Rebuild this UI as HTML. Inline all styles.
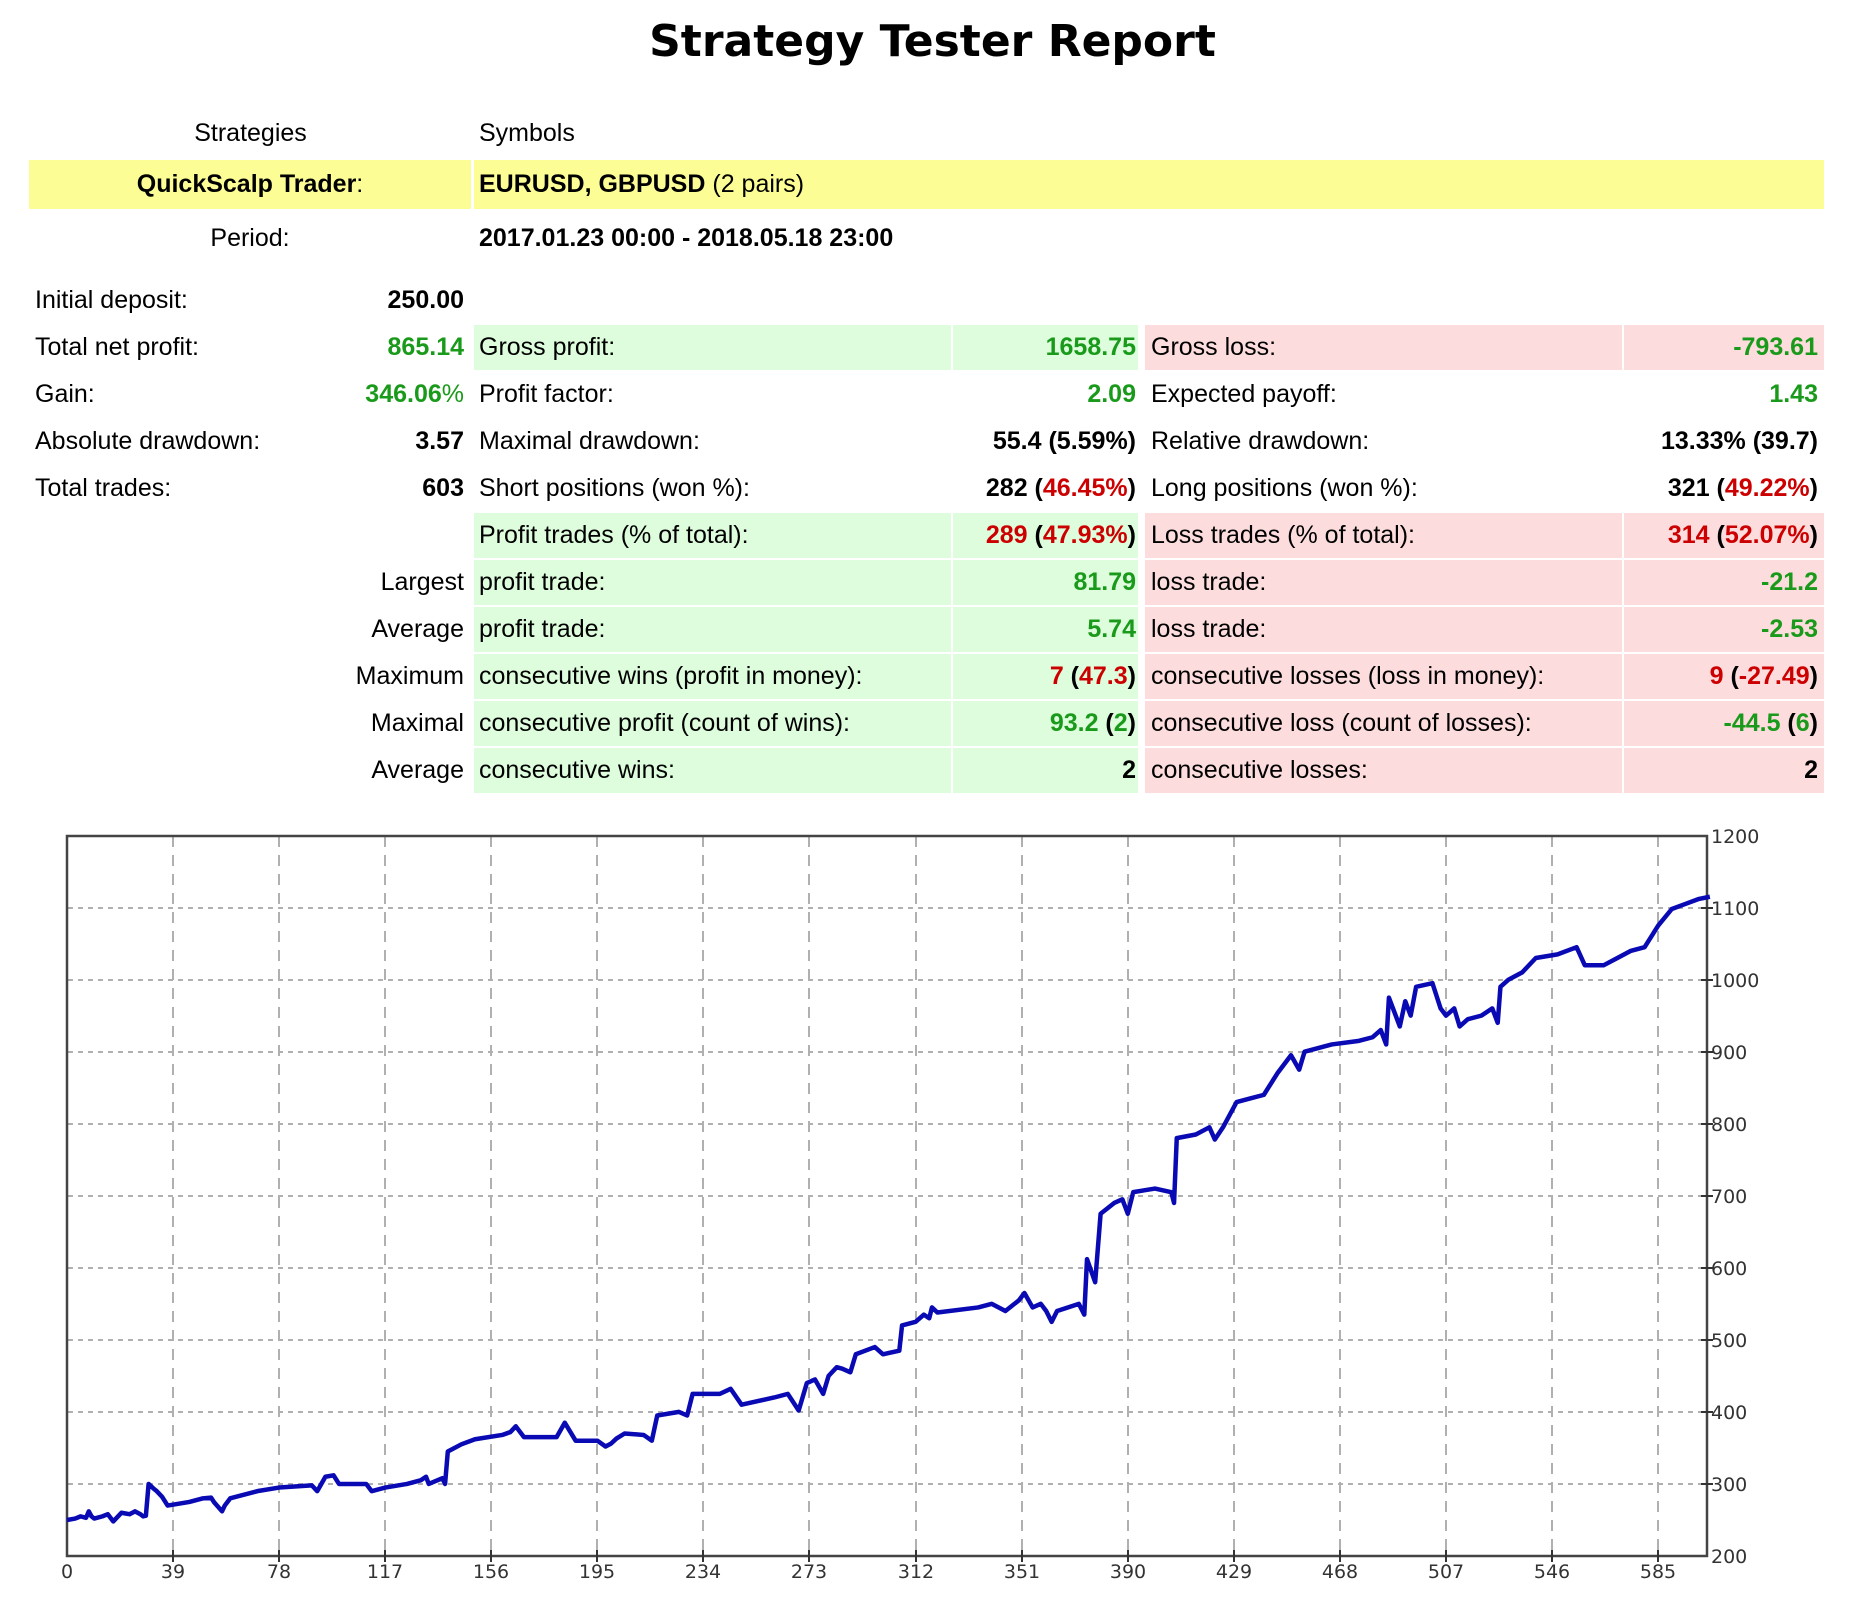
<!DOCTYPE html>
<html><head><meta charset="utf-8">
<style>
body{margin:0;width:1865px;height:1605px;background:#fff;position:relative;font-family:"Liberation Sans",Arial,sans-serif;font-size:25px;color:#000;overflow:hidden}
.a{position:absolute;line-height:45px;height:45px;white-space:nowrap}
.r{text-align:right}
.b{font-weight:bold}
.g{color:#1a9a1a}
.d{color:#cc0000}
.G{background:#ddfddd}
.R{background:#fcdcdc}
</style></head><body>
<div class="a b" style="left:0;width:1865px;top:16px;text-align:center;font-family:'DejaVu Sans',sans-serif;font-size:44px;line-height:52px;height:52px">Strategy Tester Report</div>
<div class="a" style="left:29px;width:443px;top:111px;text-align:center">Strategies</div>
<div class="a" style="left:479px;top:111px">Symbols</div>
<div style="position:absolute;left:29px;top:160px;width:442px;height:49px;background:#fdfd96"></div>
<div style="position:absolute;left:474px;top:160px;width:1350px;height:49px;background:#fdfd96"></div>
<div class="a" style="left:29px;width:442px;top:162px;text-align:center"><b>QuickScalp Trader</b>:</div>
<div class="a" style="left:479px;top:162px"><b>EURUSD, GBPUSD</b> (2 pairs)</div>
<div class="a" style="left:29px;width:442px;top:216px;text-align:center">Period:</div>
<div class="a b" style="left:479px;top:216px">2017.01.23 00:00 - 2018.05.18 23:00</div>

<div style="position:absolute;left:474px;top:325px;width:477px;height:45px" class="G"></div>
<div style="position:absolute;left:953px;top:325px;width:185px;height:45px" class="G"></div>
<div style="position:absolute;left:1145px;top:325px;width:477px;height:45px" class="R"></div>
<div style="position:absolute;left:1624px;top:325px;width:200px;height:45px" class="R"></div>

<div class="a" style="left:35px;top:278px">Initial deposit:</div>
<div class="a r b" style="left:300px;width:164px;top:278px">250.00</div>

<div class="a" style="left:35px;top:325px">Total net profit:</div>
<div class="a r b g" style="left:300px;width:164px;top:325px">865.14</div>
<div class="a" style="left:479px;top:325px">Gross profit:</div>
<div class="a r b g" style="left:953px;width:183px;top:325px">1658.75</div>
<div class="a" style="left:1151px;top:325px">Gross loss:</div>
<div class="a r b g" style="left:1624px;width:194px;top:325px">-793.61</div>

<div class="a" style="left:35px;top:372px">Gain:</div>
<div class="a r g" style="left:300px;width:164px;top:372px"><b>346.06</b>%</div>
<div class="a" style="left:479px;top:372px">Profit factor:</div>
<div class="a r b g" style="left:953px;width:183px;top:372px">2.09</div>
<div class="a" style="left:1151px;top:372px">Expected payoff:</div>
<div class="a r b g" style="left:1624px;width:194px;top:372px">1.43</div>

<div class="a" style="left:35px;top:419px">Absolute drawdown:</div>
<div class="a r b" style="left:300px;width:164px;top:419px">3.57</div>
<div class="a" style="left:479px;top:419px">Maximal drawdown:</div>
<div class="a r b" style="left:894px;width:242px;top:419px">55.4 (5.59%)</div>
<div class="a" style="left:1151px;top:419px">Relative drawdown:</div>
<div class="a r b" style="left:1590px;width:228px;top:419px">13.33% (39.7)</div>

<div class="a" style="left:35px;top:466px">Total trades:</div>
<div class="a r b" style="left:300px;width:164px;top:466px">603</div>
<div class="a" style="left:479px;top:466px">Short positions (won %):</div>
<div class="a r b" style="left:894px;width:242px;top:466px">282 (<span class="d">46.45%</span>)</div>
<div class="a" style="left:1151px;top:466px">Long positions (won %):</div>
<div class="a r b" style="left:1590px;width:228px;top:466px">321 (<span class="d">49.22%</span>)</div>

<div id="rows"></div>
<script>
var rows=[
[513,"","Profit trades (% of total):",'<span class="d">289</span> (<span class="d">47.93%</span>)',"Loss trades (% of total):",'<span class="d">314</span> (<span class="d">52.07%</span>)'],
[560,"Largest","profit trade:",'<span class="g">81.79</span>',"loss trade:",'<span class="g">-21.2</span>'],
[607,"Average","profit trade:",'<span class="g">5.74</span>',"loss trade:",'<span class="g">-2.53</span>'],
[654,"Maximum","consecutive wins (profit in money):",'<span class="d">7</span> (<span class="d">47.3</span>)',"consecutive losses (loss in money):",'<span class="d">9</span> (<span class="d">-27.49</span>)'],
[701,"Maximal","consecutive profit (count of wins):",'<span class="g">93.2</span> (<span class="g">2</span>)',"consecutive loss (count of losses):",'<span class="g">-44.5</span> (<span class="g">6</span>)'],
[748,"Average","consecutive wins:",'2',"consecutive losses:",'2']];
var h="";
rows.forEach(function(r){var t=r[0];
h+='<div style="position:absolute;left:474px;top:'+t+'px;width:477px;height:45px" class="G"></div>';
h+='<div style="position:absolute;left:953px;top:'+t+'px;width:185px;height:45px" class="G"></div>';
h+='<div style="position:absolute;left:1145px;top:'+t+'px;width:477px;height:45px" class="R"></div>';
h+='<div style="position:absolute;left:1624px;top:'+t+'px;width:200px;height:45px" class="R"></div>';
h+='<div class="a r" style="left:200px;width:264px;top:'+t+'px">'+r[1]+'</div>';
h+='<div class="a" style="left:479px;top:'+t+'px">'+r[2]+'</div>';
h+='<div class="a r b" style="left:894px;width:242px;top:'+t+'px">'+r[3]+'</div>';
h+='<div class="a" style="left:1151px;top:'+t+'px">'+r[4]+'</div>';
h+='<div class="a r b" style="left:1590px;width:228px;top:'+t+'px">'+r[5]+'</div>';});
document.getElementById("rows").innerHTML=h;
</script>

<svg width="1865" height="1605" style="position:absolute;left:0;top:0" font-family="DejaVu Sans, sans-serif" font-size="19" fill="#333">
<g stroke="#b0b0b0" stroke-width="2" stroke-dasharray="11,8">
<line x1="173" y1="836" x2="173" y2="1556"/><line x1="279" y1="836" x2="279" y2="1556"/><line x1="385" y1="836" x2="385" y2="1556"/><line x1="491" y1="836" x2="491" y2="1556"/><line x1="597" y1="836" x2="597" y2="1556"/><line x1="703" y1="836" x2="703" y2="1556"/><line x1="809" y1="836" x2="809" y2="1556"/><line x1="916" y1="836" x2="916" y2="1556"/><line x1="1022" y1="836" x2="1022" y2="1556"/><line x1="1128" y1="836" x2="1128" y2="1556"/><line x1="1234" y1="836" x2="1234" y2="1556"/><line x1="1340" y1="836" x2="1340" y2="1556"/><line x1="1446" y1="836" x2="1446" y2="1556"/><line x1="1552" y1="836" x2="1552" y2="1556"/><line x1="1658" y1="836" x2="1658" y2="1556"/>
</g>
<g stroke="#b0b0b0" stroke-width="2" stroke-dasharray="5,5">
<line x1="68" y1="908" x2="1707" y2="908"/><line x1="68" y1="980" x2="1707" y2="980"/><line x1="68" y1="1052" x2="1707" y2="1052"/><line x1="68" y1="1124" x2="1707" y2="1124"/><line x1="68" y1="1196" x2="1707" y2="1196"/><line x1="68" y1="1268" x2="1707" y2="1268"/><line x1="68" y1="1340" x2="1707" y2="1340"/><line x1="68" y1="1412" x2="1707" y2="1412"/><line x1="68" y1="1484" x2="1707" y2="1484"/>
</g>
<rect x="67" y="836" width="1640" height="720" fill="none" stroke="#444" stroke-width="2.5"/>
<g stroke="#333" stroke-width="2">
<line x1="173" y1="1550" x2="173" y2="1562"/><line x1="279" y1="1550" x2="279" y2="1562"/><line x1="385" y1="1550" x2="385" y2="1562"/><line x1="491" y1="1550" x2="491" y2="1562"/><line x1="597" y1="1550" x2="597" y2="1562"/><line x1="703" y1="1550" x2="703" y2="1562"/><line x1="809" y1="1550" x2="809" y2="1562"/><line x1="916" y1="1550" x2="916" y2="1562"/><line x1="1022" y1="1550" x2="1022" y2="1562"/><line x1="1128" y1="1550" x2="1128" y2="1562"/><line x1="1234" y1="1550" x2="1234" y2="1562"/><line x1="1340" y1="1550" x2="1340" y2="1562"/><line x1="1446" y1="1550" x2="1446" y2="1562"/><line x1="1552" y1="1550" x2="1552" y2="1562"/><line x1="1658" y1="1550" x2="1658" y2="1562"/>
<line x1="1701" y1="908" x2="1713" y2="908"/><line x1="1701" y1="980" x2="1713" y2="980"/><line x1="1701" y1="1052" x2="1713" y2="1052"/><line x1="1701" y1="1124" x2="1713" y2="1124"/><line x1="1701" y1="1196" x2="1713" y2="1196"/><line x1="1701" y1="1268" x2="1713" y2="1268"/><line x1="1701" y1="1340" x2="1713" y2="1340"/><line x1="1701" y1="1412" x2="1713" y2="1412"/><line x1="1701" y1="1484" x2="1713" y2="1484"/>
</g>
<g transform="translate(67,1556) scale(2.72,-0.7205) translate(0,-200)">
<polyline fill="none" stroke="#0a0ab4" stroke-width="4.5" vector-effect="non-scaling-stroke" stroke-linejoin="round" points="0,250 3,252 5,255 7,253 8,262 9,255 10,252 13,255 15,258 17,248 20,260 23,258 25,262 27,258 28,255 29,256 30,300 32,293 33,290 35,282 37,270 45,275 50,280 53,281 54,275 57,262 58,270 60,280 70,290 78,295 90,298 92,290 95,310 98,312 100,300 110,300 112,290 117,295 125,300 130,305 132,310 133,300 138,308 139,300 140,345 145,355 150,362 160,368 163,372 165,380 168,365 180,365 183,385 187,360 195,360 198,352 200,356 202,363 205,370 212,368 215,360 217,395 225,400 228,395 230,425 240,425 244,432 248,410 260,420 265,425 269,402 272,440 275,445 278,425 280,450 283,462 285,460 288,455 290,480 297,490 300,480 306,485 307,520 312,525 315,535 317,530 318,545 320,538 335,545 340,550 345,540 350,555 352,565 355,545 358,550 360,540 362,525 364,540 372,550 374,535 375,612 378,580 380,675 385,690 388,695 390,675 392,705 400,710 406,705 407,690 408,780 415,785 420,795 422,778 425,795 430,830 435,835 440,840 445,870 450,895 453,875 455,900 465,910 475,915 480,920 483,930 485,910 486,975 490,935 492,970 494,950 496,990 502,995 505,960 507,950 510,960 512,935 515,945 520,950 524,960 526,940 527,990 530,1000 535,1010 540,1030 548,1035 555,1045 558,1020 565,1020 570,1030 575,1040 580,1045 585,1075 590,1098 595,1105 600,1112 604,1115"/>
</g>
<g text-anchor="middle">
<text x="67" y="1578">0</text><text x="173" y="1578">39</text><text x="279" y="1578">78</text><text x="385" y="1578">117</text><text x="491" y="1578">156</text><text x="597" y="1578">195</text><text x="703" y="1578">234</text><text x="809" y="1578">273</text><text x="916" y="1578">312</text><text x="1022" y="1578">351</text><text x="1128" y="1578">390</text><text x="1234" y="1578">429</text><text x="1340" y="1578">468</text><text x="1446" y="1578">507</text><text x="1552" y="1578">546</text><text x="1658" y="1578">585</text>
</g>
<g>
<text x="1711" y="843">1200</text><text x="1711" y="915">1100</text><text x="1711" y="987">1000</text><text x="1711" y="1059">900</text><text x="1711" y="1131">800</text><text x="1711" y="1203">700</text><text x="1711" y="1275">600</text><text x="1711" y="1347">500</text><text x="1711" y="1419">400</text><text x="1711" y="1491">300</text><text x="1711" y="1563">200</text>
</g>
</svg>
</body></html>
